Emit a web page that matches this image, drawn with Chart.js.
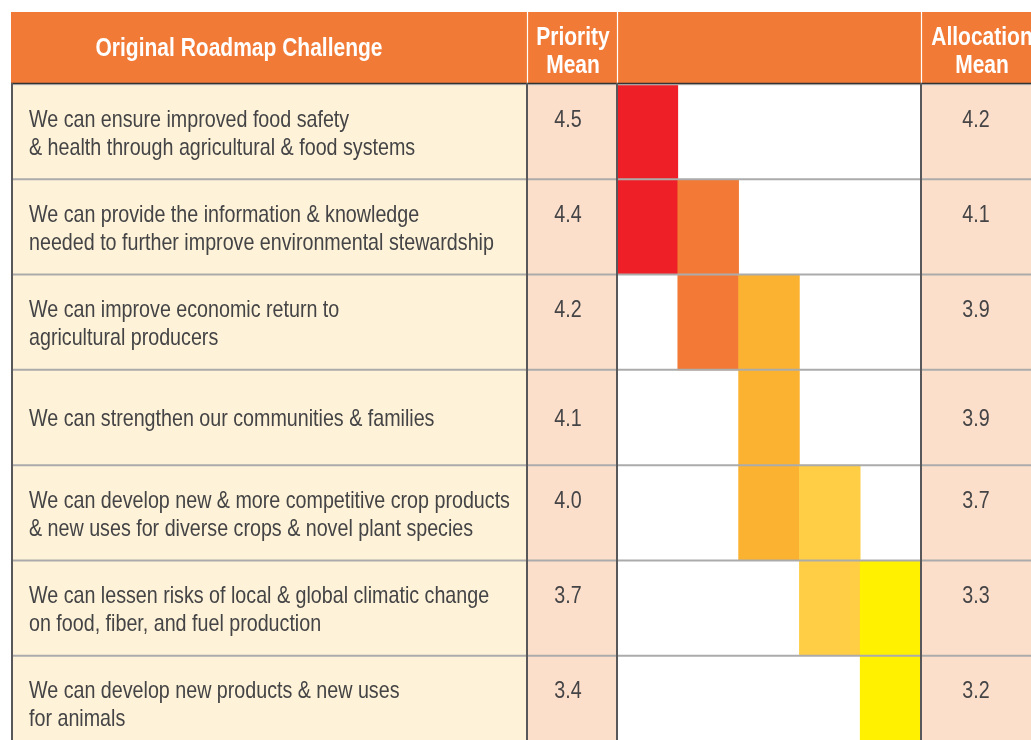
<!DOCTYPE html>
<html><head><meta charset="utf-8">
<script src="https://cdn.jsdelivr.net/npm/chart.js@4.4.1/dist/chart.umd.min.js"></script>
<style>html,body{margin:0;padding:0;overflow:hidden;background:#fff;width:1031px;height:740px}canvas{display:block}</style>
</head><body>
<canvas id="c" width="1031" height="752"></canvas>
<script>
// ---- data ----
const headerChallenge = ['Original Roadmap Challenge'];
const headerPriority = ['Priority', 'Mean'];
const headerAllocation = ['Allocation', 'Mean'];
const challenges = [
  ['We can ensure improved food safety', '& health through agricultural & food systems'],
  ['We can provide the information & knowledge', 'needed to further improve environmental stewardship'],
  ['We can improve economic return to', 'agricultural producers'],
  ['We can strengthen our communities & families'],
  ['We can develop new & more competitive crop products', '& new uses for diverse crops & novel plant species'],
  ['We can lessen risks of local & global climatic change', 'on food, fiber, and fuel production'],
  ['We can develop new products & new uses', 'for animals']
];
const priorityMean = [4.5, 4.4, 4.2, 4.1, 4.0, 3.7, 3.4];
const allocationMean = [4.2, 4.1, 3.9, 3.9, 3.7, 3.3, 3.2];
const bandLabels = ['1', '2', '3', '4', '5'];
const bandFirstRow = [1, 2, 3, 5, 6];
const bandLastRow = [2, 3, 5, 6, 7];

// ---- style ----
const bandColors = ['#EE1F26', '#F37A36', '#FBB231', '#FFCE45', '#FFF100'];
const ORANGE = '#F27A37', CREAM = '#FEF3D8', PINK = '#FCDFCA';
const X = { left: 11, c1: 527, c2: 617, c3: 921, right: 1043 };
const HEADER_TOP = 12, HEADER_BOTTOM = 83;
const SX = 0.82;
const BODY_FONT = "24px 'Liberation Sans', Arial, sans-serif";
const HEAD_FONT = "bold 25px 'Liberation Sans', Arial, sans-serif";
const TEXT_COLOR = '#444446';

function txt(ctx, s, x, y, align, font, color, sx) {
  ctx.save();
  ctx.font = font; ctx.fillStyle = color; ctx.textAlign = align; ctx.textBaseline = 'alphabetic';
  ctx.translate(x, y); ctx.scale(sx || SX, 1); ctx.fillText(s, 0, 0);
  ctx.restore();
}

const tablePlugin = {
  id: 'table',
  beforeDatasetsDraw(chart) {
    const ctx = chart.ctx, ys = chart.scales.y;
    const n = challenges.length;
    ctx.save();
    // header
    ctx.fillStyle = ORANGE;
    ctx.fillRect(X.left, HEADER_TOP, X.right - X.left, HEADER_BOTTOM - HEADER_TOP);
    ctx.strokeStyle = '#ffffff'; ctx.lineWidth = 1.2;
    [X.c1, X.c2, X.c3].forEach(x => { ctx.beginPath(); ctx.moveTo(x + 0.5, HEADER_TOP); ctx.lineTo(x + 0.5, HEADER_BOTTOM); ctx.stroke(); });
    txt(ctx, headerChallenge[0], 239, 56, 'center', HEAD_FONT, '#ffffff', 0.84);
    headerPriority.forEach((s, i) => txt(ctx, s, 573, 45 + i * 28, 'center', HEAD_FONT, '#ffffff', 0.84));
    headerAllocation.forEach((s, i) => txt(ctx, s, 982, 45 + i * 28, 'center', HEAD_FONT, '#ffffff', 0.84));
    // rows
    for (let r = 0; r < n; r++) {
      const top = ys.getPixelForValue(r), bot = ys.getPixelForValue(r + 1), h = bot - top;
      ctx.fillStyle = CREAM; ctx.fillRect(X.left, top, X.c1 - X.left, h);
      ctx.fillStyle = PINK; ctx.fillRect(X.c1, top, X.c2 - X.c1, h);
      ctx.fillStyle = '#ffffff'; ctx.fillRect(X.c2, top, X.c3 - X.c2, h);
      ctx.fillStyle = PINK; ctx.fillRect(X.c3, top, X.right - X.c3, h);
      const lines = challenges[r];
      const base0 = top + h / 2 + 8 - (lines.length - 1) * 14 + (lines.length > 1 ? 1 : 0);
      lines.forEach((s, i) => txt(ctx, s, 29, base0 + i * 28, 'left', BODY_FONT, TEXT_COLOR));
      txt(ctx, priorityMean[r].toFixed(1), 568, base0, 'center', BODY_FONT, TEXT_COLOR);
      txt(ctx, allocationMean[r].toFixed(1), 976, base0, 'center', BODY_FONT, TEXT_COLOR);
    }
    ctx.restore();
  },
  afterDatasetsDraw(chart) {
    const ctx = chart.ctx, ys = chart.scales.y;
    const n = challenges.length;
    ctx.save();
    ctx.strokeStyle = '#ababab'; ctx.lineWidth = 2;
    for (let r = 1; r <= n; r++) {
      const y = ys.getPixelForValue(r);
      ctx.beginPath(); ctx.moveTo(X.left, y); ctx.lineTo(X.right, y); ctx.stroke();
    }
    ctx.strokeStyle = '#c8c8c8'; ctx.lineWidth = 1.5;
    ctx.beginPath(); ctx.moveTo(X.left, ys.getPixelForValue(0) + 0.5); ctx.lineTo(X.right, ys.getPixelForValue(0) + 0.5); ctx.stroke();
    ctx.strokeStyle = '#333333'; ctx.lineWidth = 1.5;
    ctx.beginPath(); ctx.moveTo(X.left, HEADER_BOTTOM + 0.5); ctx.lineTo(X.right, HEADER_BOTTOM + 0.5); ctx.stroke();
    ctx.strokeStyle = '#58585a'; ctx.lineWidth = 2;
    [X.left + 1, X.c1, X.c2, X.c3].forEach(x => {
      ctx.beginPath(); ctx.moveTo(x, HEADER_BOTTOM); ctx.lineTo(x, ys.getPixelForValue(n)); ctx.stroke();
    });
    ctx.restore();
  }
};

new Chart(document.getElementById('c'), {
  type: 'bar',
  data: {
    labels: bandLabels,
    datasets: [{
      data: bandFirstRow.map((f, i) => [f - 1, bandLastRow[i]]),
      backgroundColor: bandColors,
      borderWidth: 0,
      borderSkipped: false,
      categoryPercentage: 1,
      barPercentage: 1
    }]
  },
  options: {
    responsive: false,
    animation: false,
    devicePixelRatio: 1,
    layout: { padding: { left: X.c2, right: 1031 - X.c3, top: 84, bottom: 1 } },
    plugins: { legend: { display: false }, tooltip: { enabled: false }, title: { display: false } },
    scales: {
      x: { display: false, offset: true },
      y: { display: false, min: 0, max: 7, reverse: true }
    }
  },
  plugins: [tablePlugin]
});
</script>
</body></html>
